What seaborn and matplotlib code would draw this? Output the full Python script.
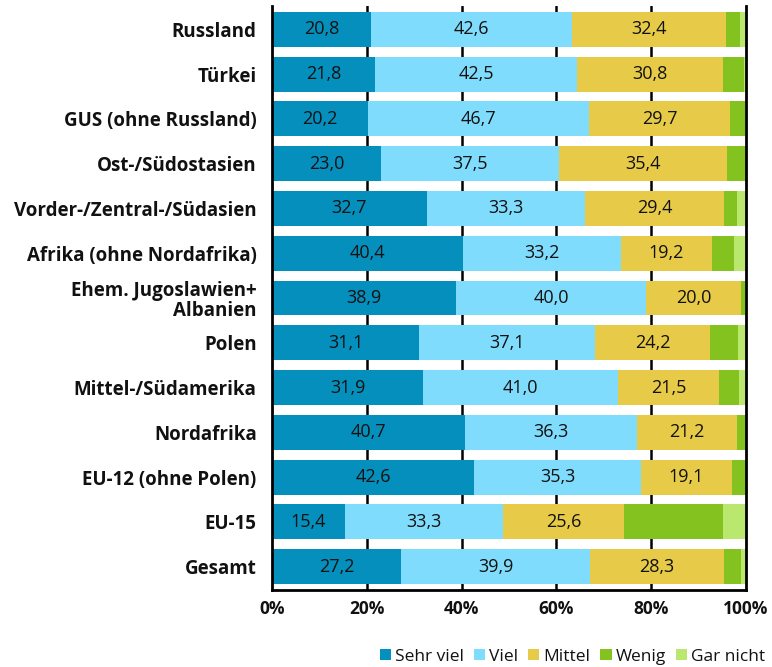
import numpy as np
import pandas as pd
import matplotlib
matplotlib.use("Agg")
import matplotlib.pyplot as plt
import seaborn as sns
from matplotlib.patches import Patch

regions = ["Russland", "Türkei", "GUS (ohne Russland)", "Ost-/Südostasien",
           "Vorder-/Zentral-/Südasien", "Afrika (ohne Nordafrika)",
           "Ehem. Jugoslawien+\nAlbanien", "Polen", "Mittel-/Südamerika",
           "Nordafrika", "EU-12 (ohne Polen)", "EU-15", "Gesamt"]
sehr_viel = [20.8, 21.8, 20.2, 23.0, 32.7, 40.4, 38.9, 31.1, 31.9, 40.7, 42.6, 15.4, 27.2]
viel      = [42.6, 42.5, 46.7, 37.5, 33.3, 33.2, 40.0, 37.1, 41.0, 36.3, 35.3, 33.3, 39.9]
mittel    = [32.4, 30.8, 29.7, 35.4, 29.4, 19.2, 20.0, 24.2, 21.5, 21.2, 19.1, 25.6, 28.3]
wenig     = [2.9, 4.4, 3.2, 4.1, 2.7, 4.6, 0.8, 5.9, 4.2, 1.8, 3.0, 20.8, 3.6]
gar_nicht = [1.3, 0.5, 0.2, 0.0, 1.9, 2.6, 0.3, 1.7, 1.4, 0.0, 0.0, 4.9, 1.0]
series_names = ["Sehr viel", "Viel", "Mittel", "Wenig", "Gar nicht"]
colors = ["#058fbd", "#80dcfc", "#e7cb48", "#84c31f", "#bae86e"]
xticks = [0, 20, 40, 60, 80, 100]
xtick_labels = ["0%", "20%", "40%", "60%", "80%", "100%"]

series = [sehr_viel, viel, mittel, wenig, gar_nicht]
cum = np.cumsum(np.array(series), axis=0)

sns.set_style("white")
plt.rcParams['font.family'] = ['Open Sans', 'DejaVu Sans']
plt.rcParams['text.color'] = '#111111'
plt.rcParams['xtick.color'] = '#111111'
plt.rcParams['ytick.color'] = '#111111'
plt.rcParams['xtick.labelcolor'] = '#111111'
plt.rcParams['ytick.labelcolor'] = '#111111'

fig = plt.figure(figsize=(7.72, 6.67), dpi=100)
ax = fig.add_axes([0.3523, 0.1154, 0.9663 - 0.3523, 0.991 - 0.1154])

for xv in [20, 40, 60, 80]:
    ax.axvline(xv, color="black", lw=1.8, zorder=0)

for i in range(len(series) - 1, -1, -1):
    df = pd.DataFrame({"region": regions, "value": cum[i]})
    sns.barplot(data=df, x="value", y="region", orient="h", color=colors[i],
                width=0.78, ax=ax, zorder=2, saturation=1, linewidth=0)

for i in range(3):
    for j, v in enumerate(series[i]):
        ax.text(cum[i][j] - v / 2, j, f"{v:.1f}".replace(".", ","),
                ha="center", va="center", fontsize=13, color="#111111", zorder=5)

ax.set_xlim(0, 100)
ax.set_ylim(12.52, -0.52)
ax.set_xticks(xticks)
ax.set_xticklabels(xtick_labels, fontsize=12.5, fontweight="bold", color="#111111")
ax.set_xlabel("")
ax.set_ylabel("")
for lab in ax.get_yticklabels():
    lab.set_fontweight("bold")
    lab.set_fontsize(13.5)
    lab.set_color("#111111")
    lab.set_multialignment("right")
    lab.set_linespacing(1.0)
ax.tick_params(axis="y", length=0, pad=11)
ax.tick_params(axis="x", direction="inout", length=9, width=2, color="black", pad=3)

for s in ["left", "right", "bottom"]:
    ax.spines[s].set_visible(True)
    ax.spines[s].set_color("black")
    ax.spines[s].set_linewidth(2)
ax.spines["top"].set_visible(False)
ax.spines["left"].set_zorder(3)
ax.spines["right"].set_zorder(3)

handles = [Patch(facecolor=c, edgecolor="none") for c in colors]
fig.legend(handles, series_names, loc="lower right", bbox_to_anchor=(1.005, -0.012),
           ncol=5, frameon=False, fontsize=12.5, handlelength=0.65, handleheight=0.65,
           handletextpad=0.25, columnspacing=0.55, borderaxespad=0.2)

fig.savefig("out.png", dpi=100)
